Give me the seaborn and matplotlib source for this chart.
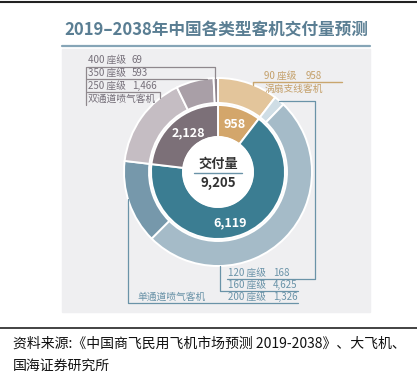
import numpy as np
import matplotlib.pyplot as plt
import seaborn as sns
from matplotlib.patches import Rectangle, Circle

# ── Data ──────────────────────────────────────────────────────────────────────
inner_labels = ['涡扇支线客机', '单通道喷气客机', '双通道喷气客机']
inner_values = [958, 6119, 2128]
outer_labels = ['90 座级', '120 座级', '160 座级', '200 座级', '250 座级', '350 座级', '400 座级']
outer_values = [958, 168, 4625, 1326, 1466, 593, 69]
total = 9205

title = '2019–2038年中国各类型客机交付量预测'
source = ['资料来源:《中国商飞民用飞机市场预测 2019-2038》、大飞机、', '国海证券研究所']

# ── Style ─────────────────────────────────────────────────────────────────────
sns.set_theme(style='white')
plt.rcParams['font.family'] = ['Noto Sans CJK SC', 'DejaVu Sans']

inner_colors = ['#d3a66b', '#3b7d92', '#7c7078']
outer_colors = ['#e3c59b', '#cfdde5', '#a5bbc8', '#7698ab', '#c5bdc3', '#a99fa7', '#8e848c']
gray_txt, gold_txt, blue_txt = '#76707a', '#c4a06a', '#6a93a8'
gray_ln, gold_ln, blue_ln = '#8f888d', '#c9a66e', '#6a93a8'

W, H = 417, 372
cx, cy, R = 218, 172, 94

fig = plt.figure(figsize=(W / 100, H / 100), dpi=100)
ax = fig.add_axes([0, 0, 1, 1])

# panel + rules
ax.add_patch(Rectangle((62, 49), 308, 263, color='#efeff1', zorder=0))
ax.plot([0, W], [2, 2], color='#222222', lw=1.5)
ax.plot([0, W], [328, 328], color='#222222', lw=1.2)
ax.plot([62, 370], [46, 46], color='#86a5b7', lw=1.6)
ax.text(216, 30, title, ha='center', va='center', fontsize=12,
        fontweight='bold', color='#5a7e93')

# ── Donut (y axis inverted, so start at -90 and go "counterclock") ──────────
ax.pie(outer_values, colors=outer_colors, center=(cx, cy), radius=R,
       startangle=-90, counterclock=True, frame=True,
       wedgeprops=dict(width=25, edgecolor='white', linewidth=1.4))
wedges, _ = ax.pie(inner_values, colors=inner_colors, center=(cx, cy), radius=67,
                   startangle=-90, counterclock=True, frame=True,
                   wedgeprops=dict(width=32, edgecolor='white', linewidth=1.4))
ax.add_patch(Circle((cx, cy), 35, color='white', zorder=5))

inner_txt = ['958', '6,119', '2,128']
inner_pos = [(235, 124), (230, 223), (188, 133)]
for t, (x, y) in zip(inner_txt, inner_pos):
    ax.text(x, y, t, ha='center', va='center', color='white', fontsize=9,
            fontweight='bold', zorder=6)

ax.text(cx, 164, '交付量', ha='center', va='center', fontsize=9.5,
        fontweight='bold', color='#333333', zorder=6)
ax.plot([cx - 24, cx + 24], [172.5, 172.5], color='#6a93a8', lw=1, zorder=6)
ax.text(cx, 183, f'{total:,}', ha='center', va='center', fontsize=9.5,
        fontweight='bold', color='#333333', zorder=6)


def ring_y(x, top=True):
    d = np.sqrt(max(R ** 2 - (x - cx) ** 2, 0))
    return cy - d if top else cy + d


fs = 7
# ── Wide-body callouts ───────────────────────────────────────────────────────
gray_rows = [(6, 60, 67, 215), (5, 73, 79, 207), (4, 86, 92, 160)]
for i, ty, ly, xe in gray_rows:
    ax.text(88, ty, outer_labels[i], va='center', fontsize=fs, color=gray_txt)
    ax.text(132, ty, f'{outer_values[i]:,}', va='center', fontsize=fs, color=gray_txt)
    ax.plot([87, xe, xe], [ly, ly, ring_y(xe)], color=gray_ln, lw=0.9)
ax.plot([86, 86], [67, 105], color=gray_ln, lw=0.9)
ax.text(88, 99, inner_labels[2], va='center', fontsize=fs, color=gray_txt)

# ── Regional callout ─────────────────────────────────────────────────────────
ax.text(264, 76, outer_labels[0], va='center', fontsize=fs, color=gold_txt)
ax.text(306, 76, f'{outer_values[0]:,}', va='center', fontsize=fs, color=gold_txt)
ax.text(265, 89, inner_labels[0], va='center', fontsize=fs, color=gold_txt)
ax.plot([342, 253, 253], [82, 82, ring_y(253)], color=gold_ln, lw=1)

# ── Narrow-body callouts ─────────────────────────────────────────────────────
ang = np.deg2rad(360 * (outer_values[0] + outer_values[1] / 2) / total)
x0, y0 = cx + R * np.sin(ang), cy - R * np.cos(ang)
ax.plot([x0, 315, 315, 227], [y0, y0, 279, 279], color=blue_ln, lw=0.9)
ax.plot([220, 220, 298], [ring_y(220, False), 291, 291], color=blue_ln, lw=0.9)
ax.plot([128, 128, 298], [ring_y(128, False), 303, 303], color=blue_ln, lw=0.9)
for i, ty in zip([1, 2, 3], [273, 285, 297]):
    ax.text(228, ty, outer_labels[i], va='center', fontsize=fs, color=blue_txt)
    ax.text(273, ty, f'{outer_values[i]:,}', va='center', fontsize=fs, color=blue_txt)
ax.text(137, 297, inner_labels[1], va='center', fontsize=fs, color=blue_txt)

# ── Source ───────────────────────────────────────────────────────────────────
ax.text(13, 344, source[0], va='center', fontsize=10, color='#111111')
ax.text(13, 366, source[1], va='center', fontsize=10, color='#111111')

ax.set_xlim(0, W)
ax.set_ylim(H, 0)
ax.axis('off')
fig.savefig('out.png', dpi=100)
plt.close()
